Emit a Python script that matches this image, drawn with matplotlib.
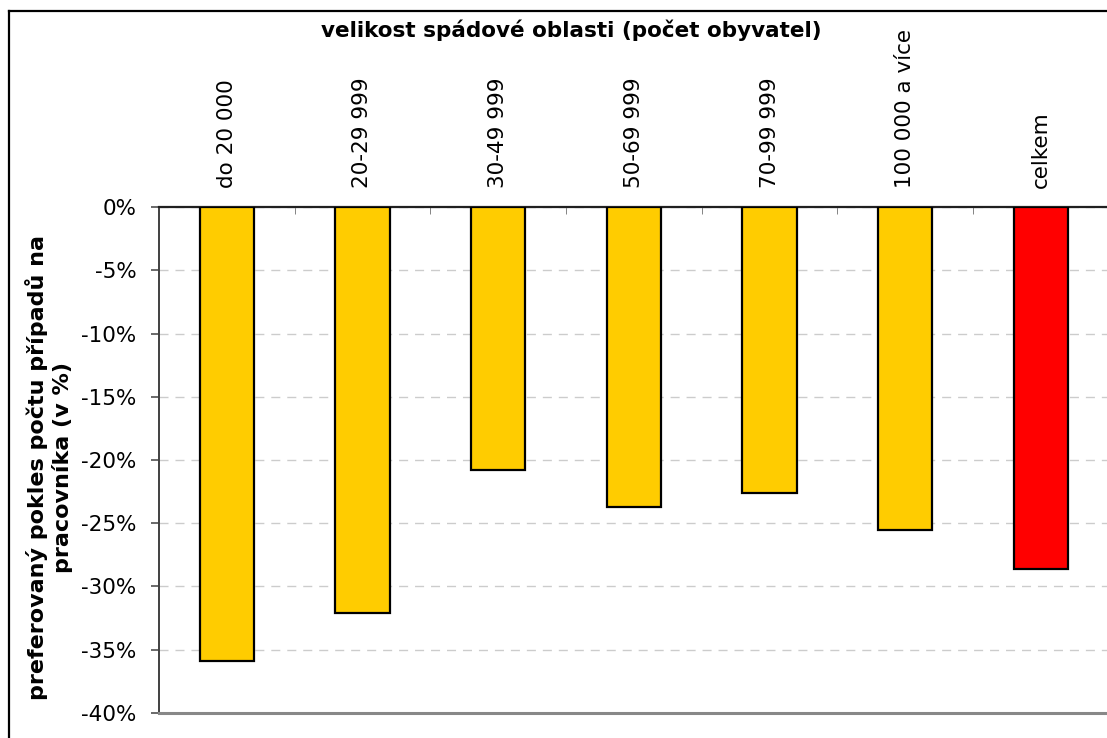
import numpy as np
import matplotlib.pyplot as plt
from matplotlib.lines import Line2D

plt.rcParams['font.family'] = 'DejaVu Sans'

categories = ['do 20 000', '20-29 999', '30-49 999', '50-69 999',
              '70-99 999', '100 000 a více', 'celkem']
values = [-35.9, -32.1, -20.8, -23.7, -22.6, -25.5, -28.6]
colors = ['#FFCC00'] * 6 + ['#FF0000']
yticks = list(range(0, -45, -5))

fig = plt.figure(figsize=(11.07, 7.38), dpi=100)
ax = fig.add_axes([0.1436, 0.0339, 0.8580, 0.6856])

x = np.arange(len(categories))
ax.bar(x, values, width=0.40, color=colors, edgecolor='black', linewidth=1.6, zorder=3)

ax.set_xlim(-0.5, len(categories) - 0.5)
ax.set_ylim(-40, 0)
ax.set_yticks(yticks)
ax.set_yticklabels(['%d%%' % v for v in yticks], fontsize=15.5)
ax.yaxis.grid(True, linestyle=(0, (6.5, 5)), color='#cccccc', linewidth=1.0, zorder=0)

# category labels on top, tick marks between categories
ax.xaxis.tick_top()
ax.set_xticks(x)
ax.set_xticklabels(categories, rotation=90, fontsize=15.5)
ax.tick_params(axis='x', which='major', length=0, pad=14)
ax.set_xticks(np.arange(0.5, len(categories) - 0.5, 1), minor=True)
ax.tick_params(axis='x', which='minor', direction='in', length=5, color='#707070', top=True)
ax.tick_params(axis='y', direction='out', length=6, color='#505050', width=1.2, pad=10)

ax.spines['right'].set_visible(False)
ax.spines['top'].set_color('#202020')
ax.spines['top'].set_linewidth(1.6)
ax.spines['left'].set_color('#404040')
ax.spines['left'].set_linewidth(1.4)
ax.spines['bottom'].set_color('#888888')
ax.spines['bottom'].set_linewidth(2.2)

fig.text(0.0443, 0.366, 'preferovaný pokles počtu případů na\npracovníka (v %)',
         fontsize=16, fontweight='bold', rotation=90, ha='center', va='center',
         multialignment='center', linespacing=1.2)

fig.text(0.516, 0.959, 'velikost spádové oblasti (počet obyvatel)',
         fontsize=15.5, fontweight='bold', ha='center', va='center')

# outer frame (top and left edges visible)
fig.add_artist(Line2D([0.0077, 1.0], [0.985, 0.985], color='black', lw=1.6))
fig.add_artist(Line2D([0.0077, 0.0077], [0.0, 0.985], color='black', lw=1.6))

fig.savefig('out.png', dpi=100)
